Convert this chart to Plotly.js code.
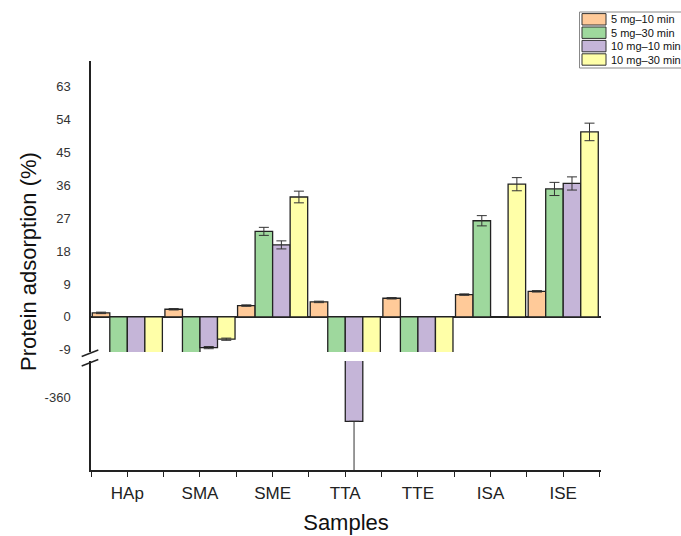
<!DOCTYPE html>
<html>
<head>
<meta charset="utf-8">
<script src="https://cdn.plot.ly/plotly-3.0.1.min.js"></script>
<style>html,body{margin:0;padding:0;background:#fff;}</style>
</head>
<body>
<div id="chart" style="width:681px;height:536px;"></div>
<script>
// ---- data ----
const categories = ['HAp', 'SMA', 'SME', 'TTA', 'TTE', 'ISA', 'ISE'];
const seriesNames = ['5 mg\u201310 min', '5 mg\u201330 min', '10 mg\u201310 min', '10 mg\u201330 min'];
const seriesColors = ['#FFCA99', '#9ED89D', '#C5B5D8', '#FFFFA8'];

const v5mg10 = [1.1, 2.1, 3.1, 4.1, 5.1, 6.1, 7.0];
const e5mg10 = [0.2, 0.2, 0.2, 0.2, 0.2, 0.2, 0.2];

const v5mg30 = [-100, -100, 23.4, -100, -100, 26.3, 35.0];
const e5mg30 = [0, 0, 1.1, 0, 0, 1.4, 1.8];

const v10mg10 = [-100, -8.4, 19.7, -366.6, -100, null, 36.5];
const e10mg10Up = [0, 0.3, 1.1, 0, 0, 0, 1.8];
const e10mg10Down = [0, 0.3, 1.1, 20, 0, 0, 1.8];

const v10mg30 = [-100, -6.1, 32.8, -100, -100, 36.3, 50.6];
const e10mg30 = [0, 0.3, 1.6, 0, 0, 1.8, 2.4];

const upperTicks = [-9, 0, 9, 18, 27, 36, 45, 54, 63];
const upperTickText = ['-9', '0', '9', '18', '27', '36', '45', '54', '63'];
const lowerTicks = [-360];
const lowerTickText = ['-360'];

// ---- geometry helpers (pixels -> paper) ----
const W = 681, H = 536;
const M = {l: 91, r: 80, t: 61, b: 66};
const PW = W - M.l - M.r, PH = H - M.t - M.b;
const px = x => (x - M.l) / PW;
const py = y => (H - M.b - y) / PH;

const xIdx = categories.map((c, i) => i);
const values = [v5mg10, v5mg30, v10mg10, v10mg30];
const errUp = [e5mg10, e5mg30, e10mg10Up, e10mg30];
const errDown = [e5mg10, e5mg30, e10mg10Down, e10mg30];

const traces = [];
['y', 'y2'].forEach(ax => {
  values.forEach((vals, k) => {
    traces.push({
      type: 'bar',
      x: xIdx,
      y: vals,
      yaxis: ax,
      xaxis: 'x',
      name: seriesNames[k],
      offsetgroup: String(k),
      showlegend: false,
      marker: {color: seriesColors[k], line: {color: '#222', width: 1.3}},
      error_y: {
        type: 'data', symmetric: false,
        array: errUp[k], arrayminus: errDown[k],
        color: '#333', thickness: 1, width: 5
      },
      hoverinfo: 'x+y'
    });
  });
});

const fontFam = 'Arial, "Liberation Sans", sans-serif';

// break marks
const shapes = [
  {type: 'line', xref: 'paper', yref: 'paper', x0: px(81.7), y0: py(356.5), x1: px(98.3), y1: py(350), line: {color: '#222', width: 1.4}},
  {type: 'line', xref: 'paper', yref: 'paper', x0: px(81.7), y0: py(366), x1: px(98.3), y1: py(359.5), line: {color: '#222', width: 1.4}}
];
const annotations = [
  {text: 'Protein adsorption (%)', xref: 'paper', yref: 'paper', x: px(28), y: py(262),
   textangle: -90, showarrow: false, xanchor: 'center', yanchor: 'middle',
   font: {family: fontFam, size: 22, color: '#111'}}
];

// manual legend
shapes.push({type: 'rect', xref: 'paper', yref: 'paper', x0: px(579.5), x1: px(700), y0: py(12), y1: py(68),
  line: {color: '#888', width: 1}, fillcolor: 'rgba(0,0,0,0)'});
seriesNames.forEach((n, k) => {
  const top = 13.6 + k * 13.4;
  shapes.push({type: 'rect', xref: 'paper', yref: 'paper', x0: px(582), x1: px(606), y0: py(top), y1: py(top + 11.4),
    line: {color: '#333', width: 1}, fillcolor: seriesColors[k]});
  annotations.push({text: n, xref: 'paper', yref: 'paper', x: px(608.5), y: py(top + 5.7),
    xanchor: 'left', yanchor: 'middle', showarrow: false, font: {family: fontFam, size: 11, color: '#111'}});
});

const layout = {
  width: W, height: H,
  margin: M,
  paper_bgcolor: '#fff', plot_bgcolor: '#fff',
  font: {family: fontFam},
  barmode: 'group', bargap: 0.035, bargroupgap: 0,
  showlegend: false,
  xaxis: {
    anchor: 'y2',
    range: [-0.5, 6.52],
    tickvals: xIdx, ticktext: categories,
    ticks: 'outside', ticklen: 5, tickwidth: 1.3, tickcolor: '#222',
    minor: {ticks: 'outside', tick0: 0.5, dtick: 1, ticklen: 5, tickwidth: 1.3, tickcolor: '#222', showgrid: false},
    showline: true, linecolor: '#222', linewidth: 1.5,
    showgrid: false, zeroline: false,
    tickfont: {family: fontFam, size: 17, color: '#222'},
    ticklabelstandoff: 2,
    title: {text: 'Samples', font: {family: fontFam, size: 22, color: '#111'}, standoff: 12}
  },
  yaxis: {
    domain: [py(352), 1],
    anchor: 'x',
    range: [-9.6, 70],
    tickvals: upperTicks, ticktext: upperTickText,
    ticks: '', showgrid: false,
    showline: true, linecolor: '#222', linewidth: 1.5,
    zeroline: true, zerolinecolor: '#222', zerolinewidth: 1.5,
    tickfont: {family: fontFam, size: 13, color: '#333'},
    ticklabelstandoff: 16
  },
  yaxis2: {
    domain: [0, py(361)],
    anchor: 'x',
    range: [-380, -350],
    tickvals: lowerTicks, ticktext: lowerTickText,
    ticks: '', showgrid: false,
    showline: true, linecolor: '#222', linewidth: 1.5,
    zeroline: false,
    tickfont: {family: fontFam, size: 13, color: '#333'},
    ticklabelstandoff: 16
  },
  shapes: shapes,
  annotations: annotations
};

Plotly.newPlot('chart', traces, layout, {displayModeBar: false, responsive: false});
</script>
</body>
</html>
